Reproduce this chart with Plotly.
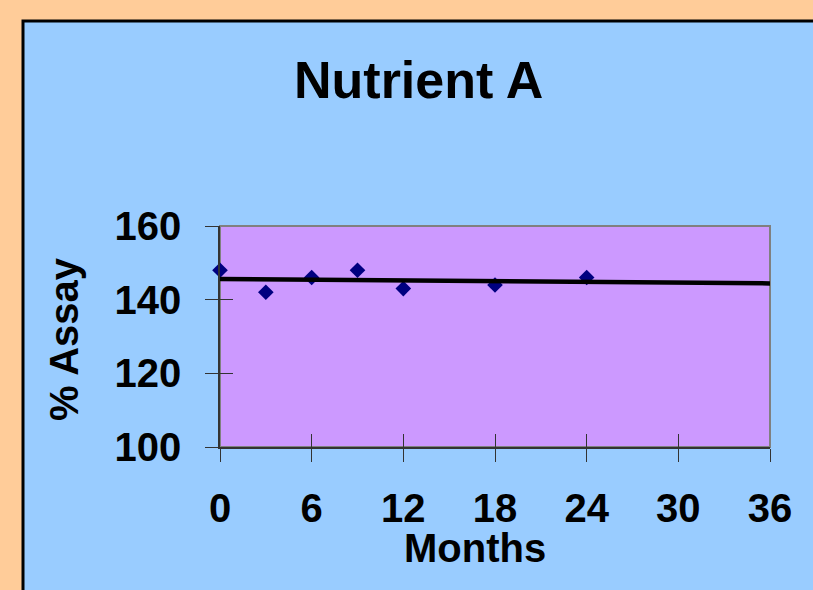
import numpy as np
import plotly.graph_objects as go

# Data
months = [0, 3, 6, 9, 12, 18, 24]
assay = [148, 142, 146, 148, 143, 144, 146]
x_ticks = [0, 6, 12, 18, 24, 30, 36]
y_ticks = [100, 120, 140, 160]
title_text = "Nutrient A"
x_title = "Months"
y_title = "% Assay"

# Linear trend fitted from the data
slope, intercept = np.polyfit(months, assay, 1)
trend_x = [0, 36]
trend_y = [intercept + slope * v for v in trend_x]

W, H = 813, 590
L, R, T, B = 220, 770, 226, 447  # plot area in pixels


def px(p):
    return (p - L) / (R - L)


def py(p):
    return (B - p) / (B - T)


FONT = "Liberation Sans, Arial, sans-serif"

fig = go.Figure()
fig.add_trace(go.Scatter(
    x=months, y=assay, mode="markers",
    marker=dict(symbol="diamond", size=12, color="#000080"),
    showlegend=False, hoverinfo="skip", cliponaxis=False,
))
fig.add_trace(go.Scatter(
    x=trend_x, y=trend_y, mode="lines",
    line=dict(color="black", width=4.5),
    showlegend=False, hoverinfo="skip", cliponaxis=False,
))
# invisible trace on overlay axes for cross ticks
fig.add_trace(go.Scatter(x=[0], y=[100], xaxis="x2", yaxis="y2",
                         mode="markers", marker=dict(opacity=0),
                         showlegend=False, hoverinfo="skip"))

tickfont = dict(family=FONT, size=40, color="black", weight="bold")

fig.update_layout(
    width=W, height=H,
    margin=dict(l=L, r=W - R, t=T, b=H - B, pad=0),
    paper_bgcolor="#FFCC99",
    plot_bgcolor="rgba(0,0,0,0)",
    xaxis=dict(range=[0, 36], tickvals=x_ticks, ticktext=[str(v) for v in x_ticks],
               ticks="outside", ticklen=13, tickwidth=1, tickcolor="#333333",
               showline=True, linecolor="#333333", linewidth=1.5,
               showgrid=False, zeroline=False, tickfont=tickfont,
               ticklabelstandoff=12),
    yaxis=dict(range=[100, 160], tickvals=y_ticks,
               ticks="outside", ticklen=13, tickwidth=1, tickcolor="#333333",
               showline=True, linecolor="#333333", linewidth=1.5,
               showgrid=False, zeroline=False, tickfont=tickfont,
               ticklabelstandoff=16),
    xaxis2=dict(range=[0, 36], tickvals=x_ticks, overlaying="x", anchor="y",
                ticks="inside", ticklen=13, tickwidth=1, tickcolor="#333333",
                showticklabels=False, showgrid=False, zeroline=False, showline=False),
    yaxis2=dict(range=[100, 160], tickvals=y_ticks, overlaying="y", anchor="x",
                ticks="inside", ticklen=13, tickwidth=1, tickcolor="#333333",
                showticklabels=False, showgrid=False, zeroline=False, showline=False),
    shapes=[
        dict(type="rect", xref="paper", yref="paper",
             x0=px(23), x1=px(840), y0=py(21), y1=py(620),
             fillcolor="#99CCFF", line=dict(color="black", width=3), layer="below"),
        dict(type="rect", xref="paper", yref="paper",
             x0=0, x1=1, y0=0, y1=1,
             fillcolor="#CC99FF", line=dict(color="#808080", width=2), layer="below"),
    ],
    annotations=[
        dict(text=title_text, xref="paper", yref="paper", x=px(418), y=py(80),
             xanchor="center", yanchor="middle", showarrow=False,
             font=dict(family=FONT, size=52, color="black", weight="bold")),
        dict(text=x_title, xref="paper", yref="paper", x=px(475), y=py(548),
             xanchor="center", yanchor="middle", showarrow=False,
             font=dict(family=FONT, size=40, color="black", weight="bold")),
        dict(text=y_title, xref="paper", yref="paper", x=px(64), y=py(339),
             xanchor="center", yanchor="middle", showarrow=False, textangle=-90,
             font=dict(family=FONT, size=40, color="black", weight="bold")),
    ],
)

fig.write_html("out.html", config={"displayModeBar": False},
               post_script="document.body.style.margin='0';document.body.style.overflow='hidden';")
